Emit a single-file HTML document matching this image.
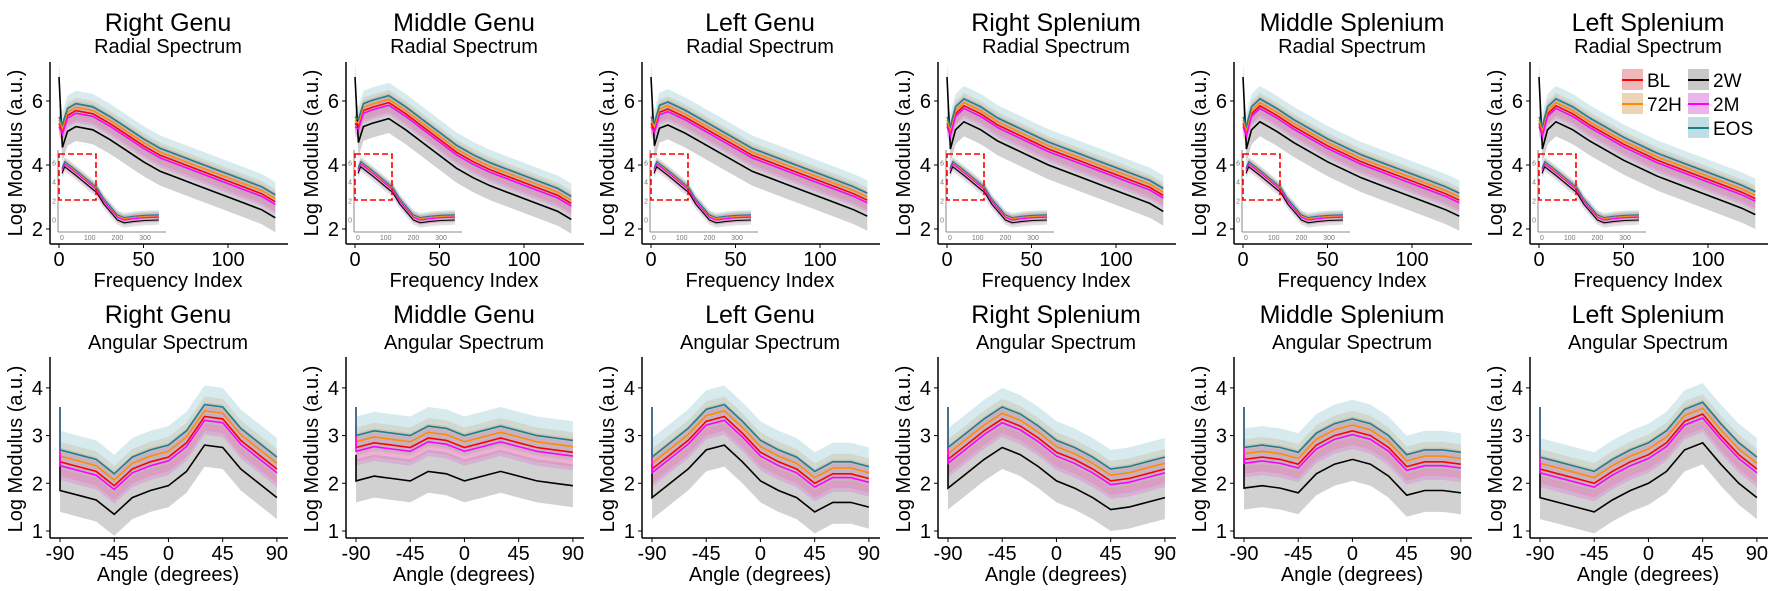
<!DOCTYPE html>
<html><head><meta charset="utf-8">
<style>
body{margin:0;background:#fff;}
svg{display:block;font-family:"Liberation Sans",Arial,sans-serif;}
</style></head>
<body>
<svg id="fig" width="1772" height="591" viewBox="0 0 1772 591" xmlns="http://www.w3.org/2000/svg"></svg>
<script>
const regions = ["Right Genu","Middle Genu","Left Genu","Right Splenium","Middle Splenium","Left Splenium"];
const seriesNames = ["BL","72H","2W","2M","EOS"];
const seriesColors = ["#ff0000","#ff8c00","#000000","#ff00ff","#1f7f86"];
const bandColors = ["#e27b7b","#e0b07a","#9a9a9a","#dd77dd","#8cc2cc"];
// radial spectrum
const radX = [2,5,10,20,30,40,50,60,70,80,90,100,110,120,128];
const radBase = [
 [5.05,5.55,5.7,5.6,5.3,4.95,4.6,4.3,4.1,3.9,3.7,3.5,3.3,3.1,2.85],
 [5.2,5.7,5.8,5.95,5.6,5.2,4.8,4.4,4.1,3.85,3.65,3.45,3.25,3.05,2.8],
 [5.1,5.65,5.75,5.5,5.2,4.9,4.6,4.3,4.1,3.9,3.7,3.5,3.3,3.1,2.9],
 [5.0,5.6,5.85,5.6,5.25,5.0,4.75,4.5,4.3,4.1,3.9,3.7,3.5,3.3,3.05],
 [5.0,5.6,5.85,5.55,5.2,4.9,4.6,4.35,4.1,3.9,3.7,3.5,3.3,3.1,2.9],
 [5.0,5.6,5.85,5.6,5.25,4.95,4.65,4.4,4.15,3.95,3.75,3.55,3.35,3.15,2.95]
];
const radStart = [5.3,5.4,6.75,5.2,5.5];
const radOffset = [0,0.1,-0.5,-0.08,0.22];
const radSd = [0.3,0.3,0.45,0.3,0.4];
const radYTicks = [2,4,6];
const radXTicks = [0,50,100];
// inset
const insX = [0,10,50,100,125,150,200,225,260,300,350];
const insBase = [5.2,5.9,5.0,3.8,3.2,2.0,0.3,0.0,0.15,0.25,0.3];
const insOffset = [0,0.15,-0.3,0,0.25];
const insYTicks = [0,2,4,6];
const insXTicks = [0,100,200,300];
// angular spectrum
const angX = [-90,-75,-60,-45,-30,-15,0,15,30,45,60,75,90];
const angBase = [
 [2.45,2.35,2.25,1.95,2.3,2.45,2.55,2.85,3.4,3.35,2.9,2.6,2.3],
 [2.75,2.85,2.8,2.75,2.95,2.9,2.75,2.85,2.95,2.85,2.75,2.7,2.65],
 [2.3,2.6,2.9,3.3,3.4,3.05,2.65,2.45,2.3,2.0,2.2,2.2,2.1],
 [2.5,2.8,3.1,3.35,3.2,2.95,2.65,2.5,2.3,2.05,2.1,2.2,2.3],
 [2.5,2.55,2.5,2.4,2.8,3.0,3.1,3.0,2.75,2.35,2.45,2.45,2.4],
 [2.3,2.2,2.1,2.0,2.25,2.45,2.6,2.85,3.3,3.45,3.0,2.6,2.3]
];
const angOffset = [0,0.12,-0.6,-0.08,0.25];
const angSd = [0.3,0.3,0.45,0.3,0.4];
const angStartSpike = [3.6,3.6,3.6,3.6,3.6];
const angYTicks = [1,2,3,4];
const angXTicks = [-90,-45,0,45,90];

const NS="http://www.w3.org/2000/svg";
const svg=document.getElementById('fig');
function mk(tag,attrs,parent){const e=document.createElementNS(NS,tag);for(const k in attrs)e.setAttribute(k,attrs[k]);(parent||svg).appendChild(e);return e;}
function txt(s,attrs,parent){const e=mk('text',attrs,parent);e.textContent=s;return e;}
function pts(xs,ys,sx,sy){return xs.map((x,i)=>sx(x).toFixed(1)+','+sy(ys[i]).toFixed(1)).join(' ');}
function band(xs,lo,hi,sx,sy){return pts(xs,lo,sx,sy)+' '+pts(xs.slice().reverse(),hi.slice().reverse(),sx,sy);}
const drawOrder=[2,0,1,3,4];

regions.forEach((name,p)=>{
  const ox=p*296;
  // ---------- radial ----------
  const g=mk('g',{},svg);
  
  
  const sx=v=>ox+59+v*1.69, sy=v=>229-(v-2)*32;
  let t=txt(name,{x:ox+168,y:31,'font-size':25,'text-anchor':'middle'},g);
  
  t=txt('Radial Spectrum',{x:ox+168,y:53,'font-size':20,'text-anchor':'middle'},g);
  
  drawOrder.forEach(s=>{
    const xs=[0].concat(radX);
    const m=[radStart[s]].concat(radBase[p].map(v=>v+radOffset[s]));
    const b=mk('polygon',{points:band(xs,m.map(v=>v-radSd[s]),m.map(v=>v+radSd[s]),sx,sy),fill:bandColors[s],'fill-opacity':s==2?0.45:0.35},g);
    
  });
  drawOrder.forEach(s=>{
    const xs=[0].concat(radX);
    const m=[radStart[s]].concat(radBase[p].map(v=>v+radOffset[s]));
    const l=mk('polyline',{points:pts(xs,m,sx,sy),fill:'none',stroke:seriesColors[s],'stroke-width':1.6},g);
    
  });
  mk('line',{x1:ox+50,y1:62,x2:ox+50,y2:244,stroke:'#000','stroke-width':1.5},g);
  mk('line',{x1:ox+50,y1:244,x2:ox+288,y2:244,stroke:'#000','stroke-width':1.5},g);
  radYTicks.forEach(v=>{mk('line',{x1:ox+46,y1:sy(v),x2:ox+50,y2:sy(v),stroke:'#000'},g);
    txt(v,{x:ox+43,y:sy(v)+7,'font-size':20,'text-anchor':'end'},g);});
  radXTicks.forEach(v=>{mk('line',{x1:sx(v),y1:244,x2:sx(v),y2:248,stroke:'#000'},g);
    txt(v,{x:sx(v),y:266,'font-size':20,'text-anchor':'middle'},g);});
  t=txt('Frequency Index',{x:ox+168,y:287,'font-size':20,'text-anchor':'middle'},g);
  
  t=txt('Log Modulus (a.u.)',{x:0,y:0,'font-size':20,'text-anchor':'middle',transform:`translate(${ox+22},153) rotate(-90)`},g);
  
  // inset
  const ig=mk('g',{},g);
  
  const ix=v=>ox+62+v*0.277, iy=v=>220-v*9.5;
  drawOrder.forEach(s=>{
    const m=insBase.map(v=>v+insOffset[s]);
    mk('polygon',{points:band(insX,m.map(v=>v-0.5),m.map(v=>v+0.5),ix,iy),fill:bandColors[s],'fill-opacity':0.3},ig);
  });
  drawOrder.forEach(s=>{
    const m=insBase.map(v=>v+insOffset[s]);
    mk('polyline',{points:pts(insX,m,ix,iy),fill:'none',stroke:seriesColors[s],'stroke-width':1.1},ig);
  });
  mk('line',{x1:ox+58,y1:150,x2:ox+58,y2:232,stroke:'#666','stroke-width':0.8},ig);
  mk('line',{x1:ox+58,y1:232,x2:ox+166,y2:232,stroke:'#666','stroke-width':0.8},ig);
  insYTicks.forEach(v=>txt(v,{x:ox+56,y:iy(v)+2.5,'font-size':7,fill:'#777','text-anchor':'end'},ig));
  insXTicks.forEach(v=>txt(v,{x:ix(v),y:240,'font-size':7,fill:'#777','text-anchor':'middle'},ig));
  const r=mk('rect',{x:ox+59,y:154,width:37,height:46,fill:'none',stroke:'#ff0000','stroke-width':1.6,'stroke-dasharray':'6,3'},ig);
  

  // ---------- angular ----------
  const a=mk('g',{},svg);
  
  
  const ax=v=>ox+60+(v+90)*1.205, ay=v=>531-(v-1)*47.7;
  t=txt(name,{x:ox+168,y:323,'font-size':25,'text-anchor':'middle'},a);
  
  t=txt('Angular Spectrum',{x:ox+168,y:349,'font-size':20,'text-anchor':'middle'},a);
  
  drawOrder.forEach(s=>{
    const m=angBase[p].map(v=>v+angOffset[s]+(p==1&&s==2?-0.1:0));
    const b=mk('polygon',{points:band(angX,m.map(v=>v-angSd[s]),m.map(v=>v+angSd[s]),ax,ay),fill:bandColors[s],'fill-opacity':s==2?0.45:0.35},a);
    
  });
  drawOrder.forEach(s=>{
    const m=angBase[p].map(v=>v+angOffset[s]+(p==1&&s==2?-0.1:0));
    const xs=[-90].concat(angX), ys=[angStartSpike[s]+(s==2?-1:0)].concat(m);
    const l=mk('polyline',{points:pts(xs,ys,ax,ay),fill:'none',stroke:seriesColors[s],'stroke-width':1.6},a);
    
  });
  mk('line',{x1:ox+50,y1:357,x2:ox+50,y2:538,stroke:'#000','stroke-width':1.5},a);
  mk('line',{x1:ox+50,y1:538,x2:ox+288,y2:538,stroke:'#000','stroke-width':1.5},a);
  angYTicks.forEach(v=>{mk('line',{x1:ox+46,y1:ay(v),x2:ox+50,y2:ay(v),stroke:'#000'},a);
    txt(v,{x:ox+43,y:ay(v)+7,'font-size':20,'text-anchor':'end'},a);});
  angXTicks.forEach(v=>{mk('line',{x1:ax(v),y1:538,x2:ax(v),y2:542,stroke:'#000'},a);
    txt(v,{x:ax(v),y:560,'font-size':20,'text-anchor':'middle'},a);});
  t=txt('Angle (degrees)',{x:ox+168,y:581,'font-size':20,'text-anchor':'middle'},a);
  
  t=txt('Log Modulus (a.u.)',{x:0,y:0,'font-size':20,'text-anchor':'middle',transform:`translate(${ox+22},449) rotate(-90)`},a);
  
});

// legend
const lg=mk('g',{},svg);


const legPos=[[1622,80],[1622,104],[1688,80],[1688,104],[1688,128]];
seriesNames.forEach((n,s)=>{
  const [x,y]=legPos[s];
  const e=mk('g',{},lg);
  
  
  mk('rect',{x:x,y:y-11,width:21,height:21,fill:bandColors[s],'fill-opacity':0.55},e);
  mk('line',{x1:x,y1:y,x2:x+21,y2:y,stroke:seriesColors[s],'stroke-width':2},e);
  txt(n,{x:x+25,y:y+7,'font-size':19},e);
});
</script>
</body></html>
